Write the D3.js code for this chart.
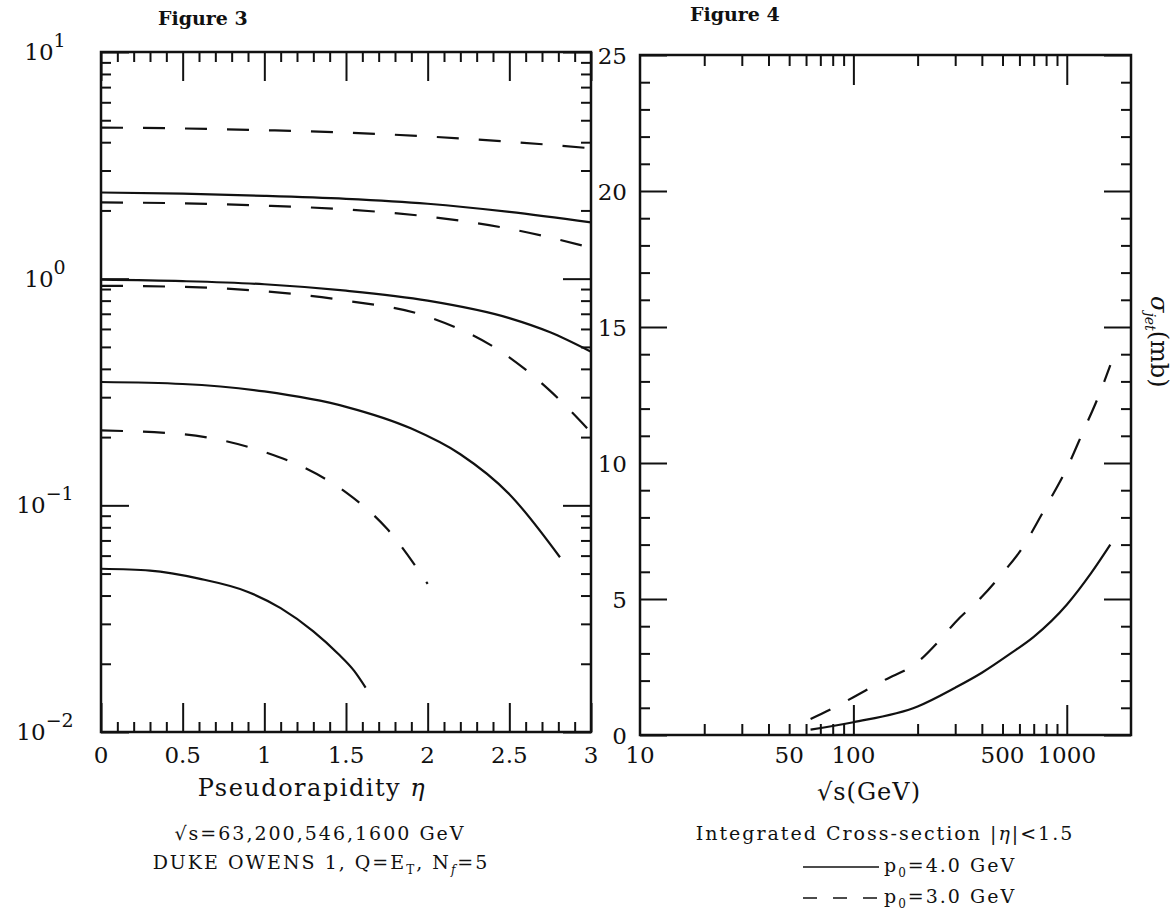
<!DOCTYPE html>
<html>
<head>
<meta charset="utf-8">
<script src="https://cdn.jsdelivr.net/npm/d3@7"></script>
<style>
  html, body { margin: 0; padding: 0; background: #fff; }
  svg { display: block; }
  .tick-label { font-family: 'DejaVu Serif', serif; font-size: 23px; fill: #111; }
  .axis-title { font-family: 'DejaVu Serif', serif; font-size: 24px; fill: #111; }
  .caption { font-family: 'DejaVu Serif', serif; font-size: 19px; letter-spacing: 2px; fill: #111; }
  .fig-title { font-family: 'DejaVu Serif', serif; font-size: 19px; font-weight: bold; fill: #111; }
</style>
</head>
<body>
<svg id="chart" width="1175" height="912"></svg>
<script>
// Figure 3: d(sigma)/d(eta) vs pseudorapidity, one solid (p0=4) and one dashed (p0=3) curve per energy
const ETA_TICKS = [0, 0.5, 1, 1.5, 2, 2.5, 3];
const ETA_LABELS = ['0', '0.5', '1', '1.5', '2', '2.5', '3'];
const LOG_Y_EXPONENTS = [1, 0, -1, -2];

const ETA_1600_P3 = [[0, 4.64], [0.5, 4.6], [1, 4.52], [1.5, 4.41], [2, 4.24], [2.5, 4.02], [3, 3.76]];
const ETA_1600_P4 = [[0, 2.40], [0.5, 2.37], [1, 2.32], [1.5, 2.25], [2, 2.14], [2.5, 1.97], [3, 1.77]];
const ETA_546_P3 = [[0, 2.17], [0.5, 2.15], [1, 2.10], [1.5, 2.02], [2, 1.88], [2.5, 1.66], [3, 1.37]];
const ETA_546_P4 = [[0, 0.99], [0.5, 0.975], [1, 0.945], [1.5, 0.885], [2, 0.80], [2.5, 0.67], [2.75, 0.58], [3, 0.476]];
const ETA_200_P3 = [[0, 0.93], [0.5, 0.92], [1, 0.88], [1.5, 0.80], [2, 0.68], [2.5, 0.45], [2.75, 0.32], [3, 0.21]];
const ETA_200_P4 = [[0, 0.35], [0.5, 0.343], [1, 0.318], [1.5, 0.272], [1.9, 0.218], [2.2, 0.168], [2.5, 0.112], [2.81, 0.059]];
const ETA_63_P3 = [[0, 0.214], [0.5, 0.206], [1, 0.172], [1.25, 0.146], [1.5, 0.114], [1.75, 0.079], [2, 0.045]];
const ETA_63_P4 = [[0, 0.0525], [0.3, 0.0515], [0.6, 0.0475], [0.9, 0.0415], [1.1, 0.0352], [1.3, 0.0278], [1.45, 0.0222], [1.55, 0.0186], [1.62, 0.0157]];

// Figure 4: integrated cross-section vs sqrt(s)
const ROOTS_LABELS = [10, 50, 100, 500, 1000];
const SIGMA_TICKS = [0, 5, 10, 15, 20, 25];
const ROOTS_P4 = [[63, 0.2], [100, 0.47], [200, 1.05], [300, 1.74], [400, 2.29], [546, 3.0], [700, 3.61], [1000, 4.79], [1300, 5.95], [1600, 7.0]];
const ROOTS_P3 = [[63, 0.59], [80, 0.98], [100, 1.39], [140, 2.02], [200, 2.68], [250, 3.43], [300, 4.14], [400, 5.08], [500, 5.95], [600, 6.72], [800, 8.4], [1000, 9.8], [1200, 11.2], [1400, 12.4], [1600, 13.6]];

const INK = '#111';
const DASH = '22,20';

(function () {
  const svg = d3.select('#chart');

  const box3 = { left: 101, right: 591, top: 52, bottom: 732 };
  const box4 = { left: 640, right: 1131, top: 55, bottom: 735 };

  function frameTicks(scale, side, values, len, box) {
    const make = { bottom: d3.axisBottom, top: d3.axisTop, left: d3.axisLeft, right: d3.axisRight }[side];
    const pos = { bottom: [0, box.bottom], top: [0, box.top], left: [box.left, 0], right: [box.right, 0] }[side];
    const a = svg.append('g')
      .attr('transform', `translate(${pos[0]},${pos[1]})`)
      .call(make(scale).tickValues(values).tickSize(-len).tickFormat(''));
    a.select('.domain').remove();
    a.selectAll('line').attr('stroke', INK).attr('stroke-width', 2);
  }

  function frame(box) {
    svg.append('rect')
      .attr('x', box.left).attr('y', box.top)
      .attr('width', box.right - box.left).attr('height', box.bottom - box.top)
      .attr('fill', 'none').attr('stroke', INK).attr('stroke-width', 2.5);
  }

  function curve(data, x, y, dashed) {
    const line = d3.line()
      .x(d => x(d[0]))
      .y(d => y(d[1]))
      .curve(d3.curveMonotoneX);
    svg.append('path')
      .datum(data)
      .attr('fill', 'none')
      .attr('stroke', INK)
      .attr('stroke-width', 2.2)
      .attr('stroke-dasharray', dashed ? DASH : null)
      .attr('d', line);
  }

  // ---------- Figure 3 ----------
  const x3 = d3.scaleLinear().domain([0, 3]).range([box3.left, box3.right]);
  const y3 = d3.scaleLog().domain([0.01, 10]).range([box3.bottom, box3.top]);

  const etaMinor = d3.range(1, 30).map(i => i / 10).filter(v => !ETA_TICKS.includes(v));
  const logMajor = LOG_Y_EXPONENTS.map(e => Math.pow(10, e));
  const logMinor = y3.ticks().filter(v => !logMajor.some(m => Math.abs(m - v) < 1e-9));

  frameTicks(x3, 'bottom', etaMinor, 10, box3);
  frameTicks(x3, 'top', etaMinor, 10, box3);
  frameTicks(x3, 'bottom', ETA_TICKS, 29, box3);
  frameTicks(x3, 'top', ETA_TICKS, 29, box3);
  frameTicks(y3, 'left', logMinor, 10, box3);
  frameTicks(y3, 'right', logMinor, 10, box3);
  frameTicks(y3, 'left', logMajor, 28, box3);
  frameTicks(y3, 'right', logMajor, 28, box3);

  [
    [ETA_1600_P3, true], [ETA_1600_P4, false],
    [ETA_546_P3, true], [ETA_546_P4, false],
    [ETA_200_P3, true], [ETA_200_P4, false],
    [ETA_63_P3, true], [ETA_63_P4, false]
  ].forEach(([d, dashed]) => curve(d, x3, y3, dashed));

  frame(box3);

  svg.append('g').selectAll('text')
    .data(ETA_TICKS)
    .enter().append('text')
    .attr('class', 'tick-label')
    .attr('text-anchor', 'middle')
    .attr('x', d => x3(d))
    .attr('y', box3.bottom + 31)
    .text((d, i) => ETA_LABELS[i]);

  LOG_Y_EXPONENTS.forEach(e => {
    const t = svg.append('text')
      .attr('class', 'tick-label')
      .attr('text-anchor', 'middle')
      .attr('x', 45)
      .attr('y', y3(Math.pow(10, e)) + 8);
    t.append('tspan').text('10');
    t.append('tspan').attr('dy', -13).attr('font-size', 19).text(e < 0 ? '\u2212' + (-e) : String(e));
  });

  svg.append('text').attr('class', 'fig-title')
    .attr('x', 158).attr('y', 25).text('Figure 3');

  const xt3 = svg.append('text').attr('class', 'axis-title')
    .attr('text-anchor', 'middle').attr('letter-spacing', 1.5)
    .attr('x', 312).attr('y', 796);
  xt3.append('tspan').text('Pseudorapidity ');
  xt3.append('tspan').attr('font-style', 'italic').text('\u03b7');

  svg.append('text').attr('class', 'caption')
    .attr('text-anchor', 'middle')
    .attr('x', 320).attr('y', 840)
    .text('\u221as=63,200,546,1600 GeV');

  const cap2 = svg.append('text').attr('class', 'caption')
    .attr('text-anchor', 'middle')
    .attr('x', 321).attr('y', 869);
  cap2.append('tspan').text('DUKE OWENS 1, Q=E');
  cap2.append('tspan').attr('font-size', 12).attr('dy', 5).text('T');
  cap2.append('tspan').attr('dy', -5).text(', N');
  cap2.append('tspan').attr('font-size', 12).attr('font-style', 'italic').attr('dy', 5).text('f');
  cap2.append('tspan').attr('dy', -5).text('=5');

  // ---------- Figure 4 ----------
  const x4 = d3.scaleLog().domain([10, 2000]).range([box4.left, box4.right]);
  const y4 = d3.scaleLinear().domain([0, 25]).range([box4.bottom, box4.top]);

  const rootsMajor = [100, 1000];
  const rootsMinor = x4.ticks().filter(v => v > 10 && v < 2000 && !rootsMajor.includes(v));
  const sigmaMinor = d3.range(1, 25).filter(v => !SIGMA_TICKS.includes(v));

  frameTicks(x4, 'bottom', rootsMinor, 11, box4);
  frameTicks(x4, 'top', rootsMinor, 11, box4);
  frameTicks(x4, 'bottom', rootsMajor, 30, box4);
  frameTicks(x4, 'top', rootsMajor, 30, box4);
  frameTicks(y4, 'left', sigmaMinor, 10, box4);
  frameTicks(y4, 'right', sigmaMinor, 10, box4);
  frameTicks(y4, 'left', SIGMA_TICKS, 27, box4);
  frameTicks(y4, 'right', SIGMA_TICKS, 27, box4);

  curve(ROOTS_P4, x4, y4, false);
  curve(ROOTS_P3, x4, y4, true);

  frame(box4);

  svg.append('g').selectAll('text')
    .data(ROOTS_LABELS)
    .enter().append('text')
    .attr('class', 'tick-label')
    .attr('text-anchor', 'middle')
    .attr('x', d => x4(d))
    .attr('y', box4.bottom + 28)
    .text(d => d);

  svg.append('g').selectAll('text')
    .data(SIGMA_TICKS)
    .enter().append('text')
    .attr('class', 'tick-label')
    .attr('text-anchor', 'end')
    .attr('x', 627)
    .attr('y', d => y4(d) + 9)
    .text(d => d);

  svg.append('text').attr('class', 'fig-title')
    .attr('x', 690).attr('y', 21).text('Figure 4');

  svg.append('text').attr('class', 'axis-title')
    .attr('text-anchor', 'middle').attr('letter-spacing', 1)
    .attr('x', 869).attr('y', 800)
    .text('\u221as(GeV)');

  const yt4 = svg.append('text').attr('class', 'axis-title')
    .attr('transform', 'translate(1151,296) rotate(90)')
    .attr('font-size', 22);
  yt4.append('tspan').attr('font-style', 'italic').text('\u03c3');
  yt4.append('tspan').attr('font-style', 'italic').attr('font-size', 14).attr('dy', 6).text('jet');
  yt4.append('tspan').attr('dy', -6).text('(mb)');

  const cap3 = svg.append('text').attr('class', 'caption')
    .attr('text-anchor', 'middle').attr('letter-spacing', 2.6)
    .attr('x', 885).attr('y', 840);
  cap3.append('tspan').text('Integrated Cross-section |');
  cap3.append('tspan').attr('font-style', 'italic').text('\u03b7');
  cap3.append('tspan').text('|<1.5');

  const LEGEND = [
    { label: '4.0', dashed: false, y: 872 },
    { label: '3.0', dashed: true, y: 903 }
  ];
  LEGEND.forEach(l => {
    svg.append('line')
      .attr('x1', 803).attr('x2', 879)
      .attr('y1', l.y - 5).attr('y2', l.y - 5)
      .attr('stroke', INK).attr('stroke-width', 1.5)
      .attr('stroke-dasharray', l.dashed ? '14,16' : null);
    const t = svg.append('text').attr('class', 'caption')
      .attr('x', 884).attr('y', l.y);
    t.append('tspan').text('p');
    t.append('tspan').attr('font-size', 12).attr('dy', 5).text('0');
    t.append('tspan').attr('dy', -5).text('=' + l.label + ' GeV');
  });
})();
</script>
</body>
</html>
